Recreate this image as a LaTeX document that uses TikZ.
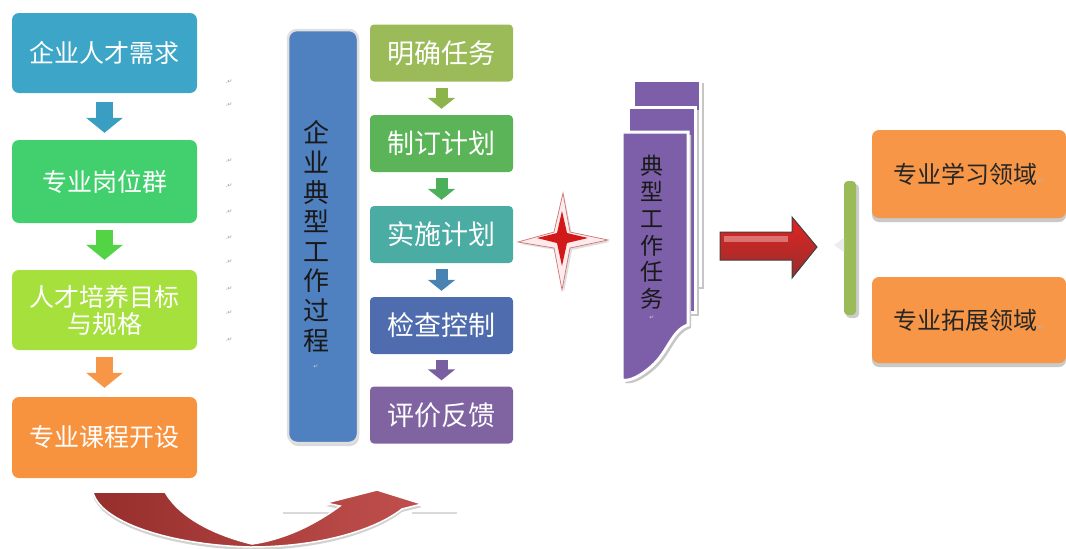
\documentclass[tikz,border=0pt]{standalone}
\usepackage{fontspec}
\newfontfamily\cjk{Noto Sans CJK SC}
\newfontfamily\dejavu{DejaVu Sans}
\usetikzlibrary{arrows.meta,shadows}
\definecolor{cA}{HTML}{3DA5C7}
\definecolor{cB}{HTML}{42D06E}
\definecolor{cC}{HTML}{A6E03C}
\definecolor{cD}{HTML}{F7933F}
\definecolor{aA}{HTML}{3A9EC2}
\definecolor{aB}{HTML}{52D444}
\definecolor{aC}{HTML}{F79646}
\definecolor{tall}{HTML}{4F80BF}
\definecolor{sA}{HTML}{9BBB59}
\definecolor{sB}{HTML}{5BB457}
\definecolor{sC}{HTML}{4BACA3}
\definecolor{sD}{HTML}{4F6DAE}
\definecolor{sE}{HTML}{8064A2}
\definecolor{tA}{HTML}{8BB54A}
\definecolor{tB}{HTML}{4CAF5B}
\definecolor{tC}{HTML}{4A82B2}
\definecolor{tD}{HTML}{7A5EA2}
\definecolor{page}{HTML}{7C5FA8}
\definecolor{orng}{HTML}{F79646}
\definecolor{brc}{HTML}{9BBB59}
\definecolor{redA}{HTML}{C0504D}
\definecolor{redD}{HTML}{962E2C}
\begin{document}
\begin{tikzpicture}[x=1pt,y=-1pt,
  lbox/.style={rounded corners=7pt, minimum width=185pt, text=white, font=\cjk\fontsize{25}{28}\selectfont, align=center, inner sep=0pt},
  sbox/.style={rounded corners=4pt, minimum width=143pt, minimum height=57pt, text=white, font=\cjk\fontsize{27}{30}\selectfont, inner sep=0pt},
  obox/.style={rounded corners=7pt, minimum width=194pt, fill=orng, text=black!85, font=\cjk\fontsize{24}{28}\selectfont, inner sep=0pt,
     drop shadow={shadow xshift=0pt, shadow yshift=-4pt, fill=gray!60, opacity=.7}},
  larrow/.style={line width=17pt, -{Triangle[width=36pt,length=15pt]}},
  sarrow/.style={line width=12pt, -{Triangle[width=27pt,length=11pt]}, shorten <=6pt, shorten >=6pt},
  vtext/.style={align=center, text=black!90, inner sep=0pt},
  pmark/.style={text=gray!80, font=\dejavu\fontsize{6}{6}\selectfont, inner sep=0pt},
  pageshape/.style={fill=page, draw=white, line width=3pt},
  pageshadow/.style={fill=gray!45}
]
\useasboundingbox (0,0) rectangle (1066,549);

% left column
\node[lbox, fill=cA, minimum height=80pt] (a1) at (104.5,53) {企业人才需求};
\node[lbox, fill=cB, minimum height=83pt] (a2) at (104.5,181.5) {专业岗位群};
\node[lbox, fill=cC, minimum height=80pt, font=\cjk\fontsize{25}{27}\selectfont] (a3) at (104.5,310) {人才培养目标\\与规格};
\node[lbox, fill=cD, minimum height=81pt] (a4) at (104.5,437.5) {专业课程开设};
\draw[larrow, aA, shorten <=9pt, shorten >=7pt] (a1.south) -- (a2.north);
\draw[larrow, aB, shorten <=7pt, shorten >=10pt] (a2.south) -- (a3.north);
\draw[larrow, aC, shorten <=7pt, shorten >=9pt] (a3.south) -- (a4.north);

% small paragraph marks
\foreach \yy [count=\i] in {82,105,161,186,212,238,262,289,313,340}
  \node[pmark] (m\i) at (229,\yy) {.↵};

% tall process box
\node[rounded corners=9pt, fill=tall, draw=gray!25, line width=2.5pt, minimum width=70pt, minimum height=413pt,
      drop shadow={shadow xshift=1pt, shadow yshift=-3pt, fill=gray!50, opacity=.6}] (proc) at (323,236.5) {};
\node[vtext, font=\cjk\fontsize{26}{29.6}\selectfont] (proct) at (316,236.5) {企\\业\\典\\型\\工\\作\\过\\程};
\node[pmark, text=gray!40] (procm) at (316,367) {↵};

% steps
\node[sbox, fill=sA] (s1) at (441.5,53) {明确任务};
\node[sbox, fill=sB] (s2) at (441.5,143.5) {制订计划};
\node[sbox, fill=sC] (s3) at (441.5,234.5) {实施计划};
\node[sbox, fill=sD] (s4) at (441.5,325.5) {检查控制};
\node[sbox, fill=sE] (s5) at (441.5,415) {评价反馈};
\draw[sarrow, tA] (s1.south) -- (s2.north);
\draw[sarrow, tB] (s2.south) -- (s3.north);
\draw[sarrow, tC] (s3.south) -- (s4.north);
\draw[sarrow, tD] (s4.south) -- (s5.north);

% star
\fill[gray!25] (564,195) -- (572,234) -- (610,242) -- (572,250) -- (564,292) -- (556,250) -- (520,244) -- (556,234) -- cycle;
\filldraw[fill=red!8, draw=redA!80, line width=.7pt] (563,193) -- (570,232) -- (608,240) -- (570,248) -- (562,290) -- (554,248) -- (518,242) -- (554,232) -- cycle;
\fill[red!80!black!90] (562,211) -- (567,233) -- (588,238) -- (567,243) -- (562,266) -- (557,243) -- (537,238) -- (557,233) -- cycle;

% stacked task pages
\fill[pageshadow] (636,83) rectangle (704,289);
\draw[pageshape] (633,80) rectangle (700,285);
\fill[pageshadow] (631,110) rectangle (699,316);
\draw[pageshape] (628,107) rectangle (695,312);
\fill[pageshadow, shift={(3,3)}] (622,132) -- (688,132) -- (688,325) .. controls (672,330) and (668,352) .. (652,366) .. controls (642,375) and (630,382) .. (622,380) -- cycle;
\draw[pageshape] (622,132) -- (688,132) -- (688,325) .. controls (672,330) and (668,352) .. (652,366) .. controls (642,375) and (630,382) .. (622,380) -- cycle;
\node[vtext, font=\cjk\fontsize{23}{26.6}\selectfont] (task) at (652,232) {典\\型\\工\\作\\任\\务};
\node[pmark, text=gray!40] (taskm) at (652,318) {↵};

% big red arrow
\shade[top color=red!55!redA, bottom color=redD, draw=black!75, line width=1pt]
  (720,232) -- (792,232) -- (792,217) -- (817,247) -- (792,278) -- (792,260) -- (720,260) -- cycle;
\fill[white, opacity=.35] (724,236) rectangle (788,242);

% brace
\fill[gray!40, rounded corners=4pt] (846,184) rectangle (859,318);
\fill[brc, rounded corners=4pt] (844,181) rectangle (856,315);
\fill[white!85!gray] (844,238) -- (834,245) -- (844,252) -- cycle;

% right boxes
\node[obox, minimum height=88pt] (r1) at (969,174) {专业学习领域\textcolor{gray!60}{\dejavu\fontsize{8}{8}\selectfont ↵}};
\node[obox, minimum height=86pt] (r2) at (969,320) {专业拓展领域\textcolor{gray!60}{\dejavu\fontsize{8}{8}\selectfont ↵}};

% bottom curved arrow
\draw[gray!30, line width=2pt] (283,513) -- (335,513);
\draw[gray!30, line width=2pt] (412,513) -- (457,513);
\fill[gray!35, shift={(0,3)}] (93,492) .. controls (100,522) and (170,545) .. (250,547) .. controls (320,547) and (375,530) .. (402,509) -- (422,504) -- (377,490) -- (326,503) -- (340,506) .. controls (310,528) and (280,540) .. (252,544) .. controls (215,535) and (180,518) .. (165,492) -- cycle;
\shade[left color=redD, right color=redA, draw=white, line width=1.5pt]
  (93,492) .. controls (100,522) and (170,545) .. (250,547) .. controls (320,547) and (375,530) .. (402,509) -- (422,504) -- (377,490) -- (326,503) -- (340,506) .. controls (310,528) and (280,540) .. (252,544) .. controls (215,535) and (180,518) .. (165,492) -- cycle;
\end{tikzpicture}
\end{document}
